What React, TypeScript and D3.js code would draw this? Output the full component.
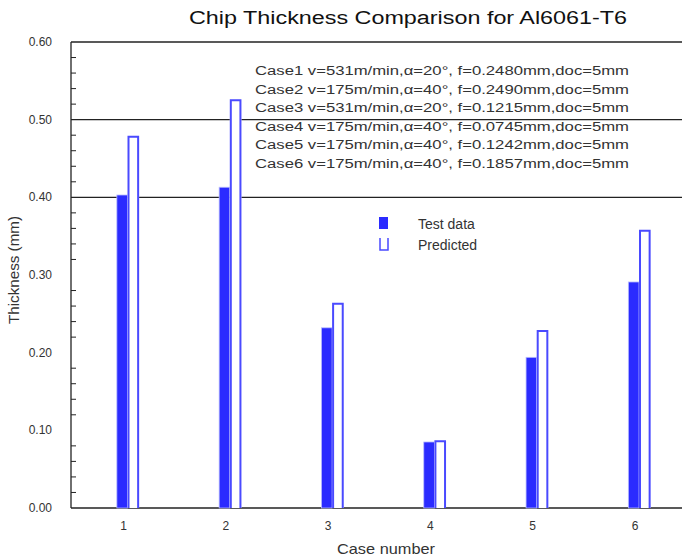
import React from "react";
import * as d3 from "d3";

const cases = [1, 2, 3, 4, 5, 6];
const testData = [0.403, 0.413, 0.232, 0.085, 0.194, 0.291];
const predicted = [0.478, 0.525, 0.263, 0.086, 0.228, 0.357];
const yTicks = [0, 0.1, 0.2, 0.3, 0.4, 0.5, 0.6];
const gridValues = [0.4, 0.5, 0.6];
const notes = [
  "Case1 v=531m/min,α=20°, f=0.2480mm,doc=5mm",
  "Case2 v=175m/min,α=40°, f=0.2490mm,doc=5mm",
  "Case3 v=531m/min,α=20°, f=0.1215mm,doc=5mm",
  "Case4 v=175m/min,α=40°, f=0.0745mm,doc=5mm",
  "Case5 v=175m/min,α=40°, f=0.1242mm,doc=5mm",
  "Case6 v=175m/min,α=40°, f=0.1857mm,doc=5mm",
];
const title = "Chip Thickness Comparison for Al6061-T6";

const W = 682;
const H = 560;
const axisX = 71;
const rightX = 682;
const BLUE = "#2b2bff";
const PBLUE = "#4a4aff";
const FONT = "Liberation Sans, Arial, sans-serif";

export default function App() {
  const y = d3.scaleLinear().domain([0, 0.6]).range([508, 42]);
  const x = d3.scaleLinear().domain([1, 6]).range([127.5, 639]);
  const bw = (x(2) - x(1)) * 0.104;
  const minor = d3.range(0, 0.6001, 0.02).filter((v) => Math.abs(v * 10 - Math.round(v * 10)) > 1e-6);

  return (
    <svg width={W} height={H} style={{ position: "absolute", left: 0, top: 0, background: "#fff" }} fontFamily={FONT}>
      <rect x={0} y={0} width={W} height={H} fill="#fff" />
      {gridValues.concat([0]).map((v) => (
        <line key={"g" + v} x1={axisX} x2={rightX} y1={y(v)} y2={y(v)} stroke="#222" strokeWidth={1.3} />
      ))}
      <line x1={axisX} x2={axisX} y1={y(0.6)} y2={y(0)} stroke="#222" strokeWidth={1.3} />
      {minor.map((v) => (
        <line key={"m" + v} x1={axisX} x2={axisX + 5} y1={y(v)} y2={y(v)} stroke="#222" strokeWidth={1} />
      ))}
      {yTicks.map((v) => (
        <text key={"yt" + v} x={52} y={y(v) + 4} fontSize={12} textAnchor="end" fill="#333">
          {d3.format(".2f")(v)}
        </text>
      ))}
      {cases.map((c, i) => (
        <g key={"b" + c}>
          <rect x={x(c) - bw} y={y(testData[i])} width={bw} height={y(0) - y(testData[i])} fill={BLUE} stroke="#b8bcff" strokeWidth={0.8} />
          <rect x={x(c)} y={y(predicted[i])} width={bw + 1} height={y(0) - y(predicted[i])} fill="#fff" />
          <path
            d={`M${x(c) + 1},${y(0)}V${y(predicted[i])}H${x(c) + bw}V${y(0)}`}
            fill="none"
            stroke={PBLUE}
            strokeWidth={2}
          />
        </g>
      ))}
      {cases.map((c) => (
        <text key={"xt" + c} x={x(c) - 4} y={530} fontSize={12} textAnchor="middle" fill="#333">
          {c}
        </text>
      ))}
      {notes.map((t, i) => (
        <text key={"n" + i} x={629} y={75 + i * 18.5} fontSize={12.5} textAnchor="end" textLength={374} lengthAdjust="spacingAndGlyphs" fill="#333">
          {t}
        </text>
      ))}
      <rect x={379} y={217} width={9} height={12} fill={BLUE} />
      <text x={418} y={229} fontSize={14} fill="#333">Test data</text>
      <path d="M380,238V250H388V238" fill="none" stroke={PBLUE} strokeWidth={1.5} />
      <text x={418} y={250} fontSize={14} fill="#333">Predicted</text>
      <text x={408} y={24} fontSize={18} textAnchor="middle" textLength={438} lengthAdjust="spacingAndGlyphs" fill="#111">
        {title}
      </text>
      <text x={386} y={554} fontSize={15} textAnchor="middle" textLength={98} lengthAdjust="spacingAndGlyphs" fill="#333">Case number</text>
      <text transform="translate(19,270) rotate(-90)" fontSize={15} textAnchor="middle" textLength={108} lengthAdjust="spacingAndGlyphs" fill="#333">Thickness (mm)</text>
    </svg>
  );
}
